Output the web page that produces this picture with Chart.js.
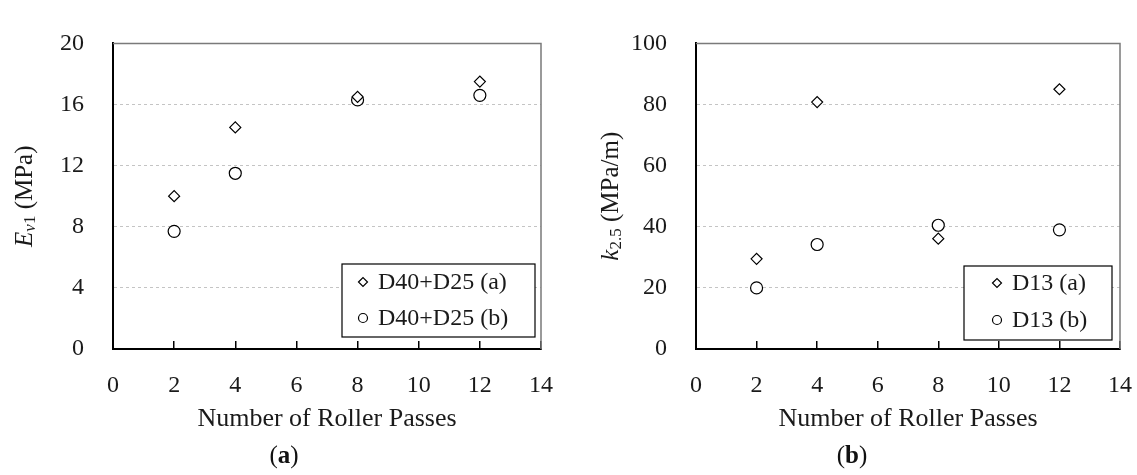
<!DOCTYPE html>
<html>
<head>
<meta charset="utf-8">
<script src="https://cdn.jsdelivr.net/npm/chart.js@4.4.1/dist/chart.umd.min.js"></script>
<style>
  body { margin: 0; background: #fff; }
  #wrap { position: relative; width: 1137px; height: 475px; }
  canvas { position: absolute; top: 0; }
  .cap { position: absolute; top: 441px; width: 120px; margin-left: -60px; text-align: center;
         font: 25px 'Liberation Serif', 'Times New Roman', serif; color: #111; }
</style>
</head>
<body>
<div id="wrap">
  <canvas id="chartA" width="568" height="475" style="left:0"></canvas>
  <canvas id="chartB" width="569" height="475" style="left:568px"></canvas>
  <div class="cap" style="left:284px">(<b>a</b>)</div>
  <div class="cap" style="left:852px">(<b>b</b>)</div>
</div>
<script>
// data
const passes = [2, 4, 8, 12];
const ev1A = [10.0, 14.5, 16.5, 17.5];
const ev1B = [7.7, 11.5, 16.3, 16.6];
const k25A = [29.5, 80.8, 36.1, 85.0];
const k25B = [20.0, 34.2, 40.5, 39.0];
const labelsA = ['D40+D25 (a)', 'D40+D25 (b)'];
const labelsB = ['D13 (a)', 'D13 (b)'];

const serif = "'Liberation Serif', 'Times New Roman', serif";
const ink = '#1a1a1a';

function pts(ys) {
  return passes.map((x, i) => ({ x: x, y: ys[i] }));
}

function marker(ctx, style, x, y, r) {
  ctx.beginPath();
  if (style === 'rectRot') {
    ctx.moveTo(x - r, y);
    ctx.lineTo(x, y - r);
    ctx.lineTo(x + r, y);
    ctx.lineTo(x, y + r);
    ctx.closePath();
  } else {
    ctx.arc(x, y, r, 0, Math.PI * 2);
  }
  ctx.fillStyle = '#fff';
  ctx.fill();
  ctx.strokeStyle = '#000';
  ctx.lineWidth = 1.2;
  ctx.stroke();
}

// top + right frame of the plot area, rotated y title, boxed legend
const extras = {
  id: 'extras',
  beforeDatasetsDraw(chart) {
    const a = chart.chartArea, ctx = chart.ctx;
    ctx.save();
    ctx.strokeStyle = '#7a7a7a';
    ctx.lineWidth = 1.5;
    ctx.beginPath();
    ctx.moveTo(a.left, a.top);
    ctx.lineTo(a.right, a.top);
    ctx.lineTo(a.right, a.bottom);
    ctx.stroke();
    ctx.restore();
  },
  afterDraw(chart, args, opts) {
    const a = chart.chartArea, ctx = chart.ctx;
    // y title
    ctx.save();
    ctx.translate(opts.titleX, (a.top + a.bottom) / 2);
    ctx.rotate(-Math.PI / 2);
    ctx.fillStyle = ink;
    ctx.textBaseline = 'middle';
    const fontOf = p => (p.italic ? 'italic ' : '') + (p.sub ? 17 : 25) + 'px ' + serif;
    let total = 0;
    opts.title.forEach(p => { ctx.font = fontOf(p); total += ctx.measureText(p.t).width; });
    let cx = -total / 2;
    opts.title.forEach(p => {
      ctx.font = fontOf(p);
      ctx.fillText(p.t, cx, p.sub ? 6 : 0);
      cx += ctx.measureText(p.t).width;
    });
    ctx.restore();

    // legend box
    const lg = opts.legend;
    const bx = a.right - lg.right - lg.width;
    const by = a.bottom - lg.bottom - lg.height;
    ctx.save();
    ctx.fillStyle = '#fff';
    ctx.fillRect(bx, by, lg.width, lg.height);
    ctx.strokeStyle = '#000';
    ctx.lineWidth = 1.2;
    ctx.strokeRect(bx, by, lg.width, lg.height);
    ctx.font = '24px ' + serif;
    ctx.textBaseline = 'middle';
    chart.data.datasets.forEach((ds, i) => {
      const ry = by + lg.rows[i];
      marker(ctx, ds.pointStyle, bx + lg.markerX, ry, 4.5);
      ctx.fillStyle = ink;
      ctx.fillText(ds.label, bx + lg.textX, ry + 1);
    });
    ctx.restore();
  }
};

function makeChart(id, labels, seriesA, seriesB, yMax, yStep, yWidth, padRight, extraOpts) {
  return new Chart(document.getElementById(id), {
    type: 'scatter',
    data: {
      datasets: [
        {
          label: labels[0],
          data: pts(seriesA),
          pointStyle: 'rectRot',
          pointRadius: 5.5,
          pointHoverRadius: 5.5,
          borderColor: '#000',
          backgroundColor: '#fff',
          borderWidth: 1.2,
        },
        {
          label: labels[1],
          data: pts(seriesB),
          pointStyle: 'circle',
          pointRadius: 6,
          pointHoverRadius: 6,
          borderColor: '#000',
          backgroundColor: '#fff',
          borderWidth: 1.2,
        },
      ],
    },
    options: {
      responsive: false,
      animation: false,
      devicePixelRatio: 1,
      layout: { padding: { top: 22, right: padRight, left: 0, bottom: 0 } },
      scales: {
        x: {
          type: 'linear',
          min: 0,
          max: 14,
          ticks: { stepSize: 2, padding: 30, color: ink, font: { family: serif, size: 24 } },
          grid: { drawOnChartArea: false, drawTicks: true, tickLength: -8, color: '#000', lineWidth: 1.5 },
          border: { color: '#000', width: 2 },
          title: {
            display: true,
            text: 'Number of Roller Passes',
            color: ink,
            font: { family: serif, size: 26 },
            padding: { top: 0, bottom: 40 },
          },
          afterFit: (s) => {
            s.height = 126;
            s.paddingLeft = 0;
            s.paddingRight = 0;
          },
        },
        y: {
          min: 0,
          max: yMax,
          ticks: { stepSize: yStep, padding: 29, color: ink, font: { family: serif, size: 24 } },
          grid: { color: '#c4c4c4', lineWidth: 1, drawTicks: false },
          border: { color: '#000', width: 2, dash: [3, 3] },
          afterFit: (s) => { s.width = yWidth; },
        },
      },
      plugins: {
        legend: { display: false },
        tooltip: { enabled: false },
        extras: extraOpts,
      },
    },
    plugins: [extras],
  });
}

makeChart('chartA', labelsA, ev1A, ev1B, 20, 4, 113, 27, {
  titleX: 25,
  title: [
    { t: 'E', italic: true },
    { t: 'v', italic: true, sub: true },
    { t: '1', sub: true },
    { t: ' (MPa)' },
  ],
  legend: { right: 6, bottom: 12, width: 193, height: 73, markerX: 21, textX: 36, rows: [18, 54] },
});

makeChart('chartB', labelsB, k25A, k25B, 100, 20, 128, 17, {
  titleX: 43,
  title: [
    { t: 'k', italic: true },
    { t: '2.5', sub: true },
    { t: ' (MPa/m)' },
  ],
  legend: { right: 8, bottom: 9, width: 148, height: 74, markerX: 33, textX: 48, rows: [17, 54] },
});
</script>
</body>
</html>
